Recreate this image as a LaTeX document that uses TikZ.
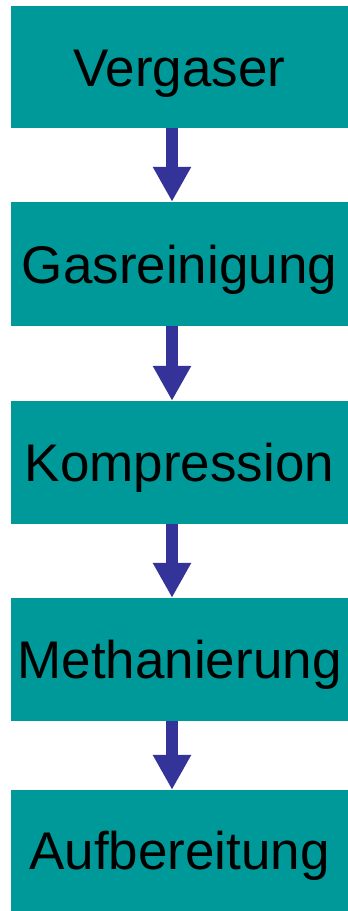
\documentclass[tikz,border=0pt]{standalone}
\usepackage{fontspec}
\setmainfont{Liberation Sans}
\usetikzlibrary{arrows.meta}
\definecolor{stagefill}{HTML}{009999}
\definecolor{flowblue}{HTML}{333399}
\begin{document}
\begin{tikzpicture}[x=1pt,y=1pt,
  stagebox/.style={rectangle, fill=stagefill, draw=none, inner sep=0pt,
    minimum width=337pt, font=\fontsize{53}{60}\selectfont,
    text height=38pt, text depth=0pt},
  flowarrow/.style={draw=flowblue, line width=12pt,
    -{Triangle[width=36pt,length=35pt,fill=flowblue]}}]
  \useasboundingbox (0,0) rectangle (348,-911);
  % process stages, top to bottom
  \node[stagebox, minimum height=122pt] (s1) at (179.5,-67)    {Vergaser};
  \node[stagebox, minimum height=124pt] (s2) at (179.5,-264)   {Gasreinigung};
  \node[stagebox, minimum height=123pt] (s3) at (179.5,-462.5) {Kompression};
  \node[stagebox, minimum height=123pt] (s4) at (179.5,-659.5) {Methanierung};
  \node[stagebox, minimum height=121pt] (s5) at (179.5,-850.5) {Aufbereitung};
  % vertical line on which the arrows run
  \coordinate (ax) at (172,0);
  \draw[flowarrow] (s1.south -| ax) -- (s2.north -| ax);
  \draw[flowarrow] (s2.south -| ax) -- (s3.north -| ax);
  \draw[flowarrow] (s3.south -| ax) -- (s4.north -| ax);
  \draw[flowarrow] (s4.south -| ax) -- (s5.north -| ax);
\end{tikzpicture}
\end{document}
